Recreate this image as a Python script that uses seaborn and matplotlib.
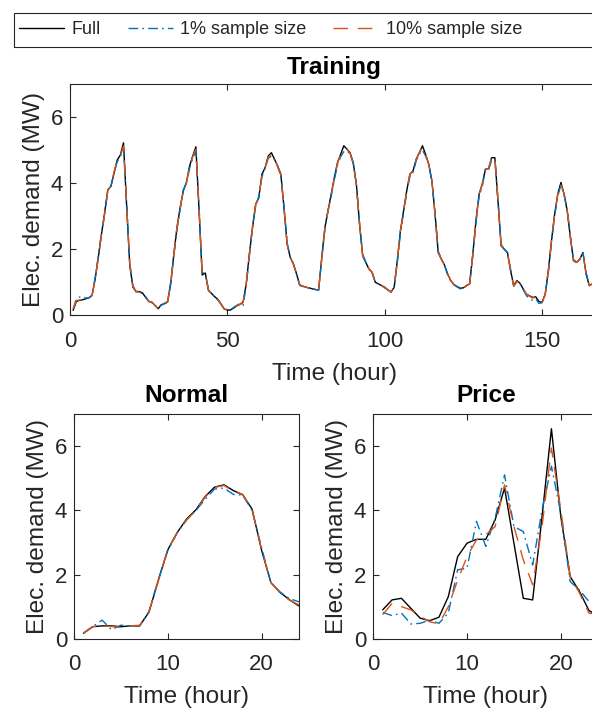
import numpy as np
import pandas as pd
import matplotlib
matplotlib.use("Agg")
import matplotlib.pyplot as plt
import seaborn as sns
from matplotlib.lines import Line2D
from matplotlib.patches import Rectangle

sns.set_style("ticks")
plt.rcParams['font.family'] = ['Liberation Sans', 'DejaVu Sans']

# ---------------- data ----------------
series_names = ["Full", "1% sample size", "10% sample size"]

train_full = [
    0.15, 0.42, 0.45, 0.47, 0.5, 0.53, 0.6, 1.1, 1.75, 2.45, 3.1, 3.8, 3.9, 4.3, 4.7, 4.85, 5.22, 3.3, 1.5, 0.85, 0.72, 0.72, 0.68, 0.55,
    0.42, 0.4, 0.3, 0.2, 0.32, 0.35, 0.4, 0.95, 1.85, 2.66, 3.26, 3.77, 4.02, 4.52, 4.82, 5.1, 3.2, 1.22, 1.28, 0.75, 0.66, 0.56, 0.48, 0.34,
    0.19, 0.16, 0.16, 0.22, 0.29, 0.33, 0.4, 0.95, 1.85, 2.66, 3.36, 3.56, 4.27, 4.47, 4.82, 4.92, 4.72, 4.52, 4.27, 3.26, 2.15, 1.75, 1.55, 1.25,
    0.92, 0.88, 0.85, 0.83, 0.8, 0.78, 0.77, 1.75, 2.66, 3.16, 3.67, 4.17, 4.62, 4.87, 5.13, 5.03, 4.92, 4.62, 3.97, 2.76, 1.8, 1.6, 1.4, 1.3,
    1.0, 0.95, 0.9, 0.85, 0.77, 0.7, 0.85, 1.65, 2.56, 3.16, 3.77, 4.27, 4.37, 4.72, 4.92, 5.13, 4.87, 4.57, 4.07, 3.06, 1.9, 1.7, 1.52, 1.25,
    1.05, 0.93, 0.87, 0.82, 0.83, 0.9, 0.95, 1.85, 2.86, 3.67, 3.97, 4.42, 4.44, 4.77, 4.77, 3.46, 2.1, 2.0, 1.9, 1.35, 0.9, 1.05, 0.97, 0.8,
    0.64, 0.59, 0.54, 0.56, 0.42, 0.39, 0.64, 1.35, 2.26, 3.06, 3.67, 4.02, 3.67, 3.16, 2.36, 1.65, 1.6, 1.7, 1.9, 1.25, 0.9, 0.95, 1.0, 1.05,
]
train_s1 = [
    0.18, 0.5, 0.55, 0.57, 0.52, 0.53, 0.6, 1.15, 1.8, 2.5, 3.05, 3.75, 3.92, 4.3, 4.65, 4.8, 5.05, 3.4, 1.55, 0.9, 0.7, 0.7, 0.66, 0.57,
    0.43, 0.38, 0.3, 0.22, 0.3, 0.36, 0.42, 1.0, 1.8, 2.6, 3.2, 3.8, 4.0, 4.45, 4.75, 4.95, 3.3, 1.3, 1.25, 0.78, 0.62, 0.58, 0.46, 0.33,
    0.2, 0.17, 0.17, 0.24, 0.3, 0.36, 0.3, 0.9, 1.8, 2.7, 3.3, 3.6, 4.2, 4.45, 4.75, 4.82, 4.7, 4.5, 4.2, 3.3, 2.2, 1.75, 1.55, 1.22,
    0.9, 0.87, 0.85, 0.82, 0.8, 0.78, 0.76, 1.7, 2.6, 3.2, 3.6, 4.1, 4.55, 4.8, 4.95, 4.98, 4.88, 4.6, 3.95, 2.8, 1.85, 1.6, 1.42, 1.28,
    1.0, 0.95, 0.9, 0.83, 0.77, 0.72, 0.84, 1.6, 2.5, 3.1, 3.7, 4.2, 4.3, 4.68, 4.88, 5.0, 4.82, 4.55, 4.05, 3.1, 1.95, 1.7, 1.52, 1.22,
    1.03, 0.92, 0.86, 0.8, 0.82, 0.9, 0.98, 1.8, 2.8, 3.6, 3.9, 4.4, 4.4, 4.7, 4.7, 3.5, 2.15, 2.0, 1.9, 1.4, 0.88, 1.02, 0.95, 0.78,
    0.6, 0.5, 0.45, 0.5, 0.36, 0.38, 0.62, 1.3, 2.2, 3.0, 3.6, 3.95, 3.65, 3.2, 2.4, 1.68, 1.62, 1.68, 1.88, 1.3, 0.92, 0.97, 0.98, 1.05,
]
train_s10 = [
    0.2, 0.45, 0.46, 0.48, 0.5, 0.54, 0.6, 1.1, 1.75, 2.45, 3.05, 3.78, 3.9, 4.35, 4.68, 4.82, 5.12, 3.35, 1.55, 0.88, 0.72, 0.7, 0.66, 0.56,
    0.42, 0.4, 0.3, 0.2, 0.32, 0.36, 0.4, 0.95, 1.85, 2.66, 3.25, 3.75, 4.0, 4.5, 4.8, 5.02, 3.25, 1.25, 1.25, 0.76, 0.65, 0.56, 0.47, 0.34,
    0.19, 0.16, 0.17, 0.22, 0.28, 0.33, 0.38, 0.95, 1.85, 2.66, 3.35, 3.56, 4.25, 4.47, 4.78, 4.88, 4.72, 4.5, 4.25, 3.26, 2.15, 1.75, 1.55, 1.25,
    0.92, 0.88, 0.85, 0.82, 0.8, 0.78, 0.76, 1.72, 2.65, 3.16, 3.65, 4.15, 4.6, 4.85, 5.02, 5.02, 4.9, 4.6, 3.97, 2.78, 1.8, 1.6, 1.4, 1.3,
    1.0, 0.95, 0.9, 0.84, 0.77, 0.7, 0.84, 1.65, 2.56, 3.16, 3.75, 4.27, 4.35, 4.72, 4.92, 5.08, 4.85, 4.57, 4.07, 3.06, 1.9, 1.7, 1.52, 1.25,
    1.05, 0.93, 0.87, 0.82, 0.83, 0.9, 0.95, 1.85, 2.86, 3.67, 3.97, 4.42, 4.44, 4.8, 4.8, 3.46, 2.1, 2.0, 1.9, 1.35, 0.88, 1.03, 0.95, 0.8,
    0.64, 0.58, 0.52, 0.55, 0.42, 0.38, 0.64, 1.35, 2.26, 3.06, 3.67, 3.98, 3.67, 3.16, 2.36, 1.65, 1.6, 1.7, 1.88, 1.25, 0.9, 0.95, 1.0, 1.05,
]

normal_full = [0.17, 0.375, 0.4, 0.4, 0.375, 0.4, 0.4, 0.83, 1.83, 2.77, 3.31, 3.73, 4.02, 4.44, 4.73, 4.8, 4.62, 4.49, 4.04, 2.77, 1.75, 1.44, 1.21, 1.02]
normal_s1 = [0.17, 0.38, 0.58, 0.28, 0.42, 0.4, 0.4, 0.85, 1.85, 2.75, 3.3, 3.7, 4.0, 4.35, 4.67, 4.7, 4.5, 4.48, 4.0, 2.85, 1.75, 1.45, 1.25, 1.15]
normal_s10 = [0.17, 0.38, 0.4, 0.38, 0.35, 0.4, 0.42, 0.85, 1.8, 2.78, 3.3, 3.7, 4.0, 4.42, 4.72, 4.78, 4.6, 4.5, 4.0, 2.8, 1.75, 1.42, 1.2, 1.05]

price_full = [0.9, 1.21, 1.26, 0.95, 0.64, 0.56, 0.67, 1.31, 2.56, 2.98, 3.1, 3.1, 3.71, 4.7, 2.98, 1.26, 1.21, 3.81, 6.55, 3.81, 1.94, 1.47, 0.88, 0.7]
price_s1 = [0.82, 0.72, 0.8, 0.46, 0.48, 0.58, 0.48, 0.8, 2.15, 2.2, 3.66, 2.88, 3.76, 5.11, 3.5, 3.34, 2.3, 4.02, 5.38, 3.92, 1.78, 1.52, 1.16, 1.05]
price_s10 = [0.75, 1.1, 1.0, 0.9, 0.7, 0.53, 0.46, 1.0, 1.83, 2.56, 3.08, 3.24, 3.5, 4.8, 3.5, 2.46, 1.68, 3.5, 5.95, 4.02, 1.94, 1.42, 0.8, 0.75]

# ---------------- style ----------------
colors = {"Full": "#000000", "1% sample size": "#0072BD", "10% sample size": "#D95319"}
dashes = {"Full": "", "1% sample size": (7, 3, 1.2, 3), "10% sample size": (10.5, 7)}
AX = "#262626"


def long_df(full, s1, s10):
    n = len(full)
    frames = []
    for name, vals in zip(series_names, [full, s1, s10]):
        frames.append(pd.DataFrame({"hour": np.arange(1, n + 1), "demand": vals, "series": name}))
    return pd.concat(frames, ignore_index=True)


W, H = 592, 711
fig = plt.figure(figsize=(W / 100, H / 100), dpi=100)


def px_axes(left, top, width, height):
    return fig.add_axes([left / W, 1 - (top + height) / H, width / W, height / H])


ax_tr = px_axes(70, 84, 168 * 3.147, 231.3)
ax_n = px_axes(74, 414.3, 225, 224.4)
ax_p = px_axes(373.3, 414.3, 225, 224.4)


def draw(ax, df, xlim, xticks, title, tpad):
    sns.lineplot(data=df, x="hour", y="demand", hue="series", style="series",
                 hue_order=series_names, style_order=series_names,
                 palette=colors, dashes=dashes, linewidth=1.0,
                 estimator=None, sort=False, legend=False, ax=ax)
    ax.set_xlim(*xlim)
    ax.set_ylim(0, 7)
    ax.set_xticks(xticks)
    ax.set_yticks([0, 2, 4, 6])
    ax.tick_params(direction="in", top=True, right=True, length=4, width=0.8,
                   colors=AX, labelsize=16)
    ax.tick_params(axis="x", pad=11)
    ax.tick_params(axis="y", pad=5)
    for s in ax.spines.values():
        s.set_visible(True)
        s.set_color(AX)
        s.set_linewidth(0.8)
    ax.set_xlabel("Time (hour)", fontsize=17.6, color=AX, labelpad=8)
    ax.set_ylabel("Elec. demand (MW)", fontsize=17.6, color=AX, labelpad=4)
    ax.set_title(title, fontsize=17.6, fontweight="bold", color="black", pad=tpad)


draw(ax_tr, long_df(train_full, train_s1, train_s10), (0, 168), [0, 50, 100, 150], "Training", 7)
draw(ax_n, long_df(normal_full, normal_s1, normal_s10), (0, 24), [0, 10, 20], "Normal", 9)
draw(ax_p, long_df(price_full, price_s1, price_s10), (0, 24), [0, 10, 20], "Price", 9)

# legend
handles = []
for name in series_names:
    ls = "-" if dashes[name] == "" else (0, dashes[name])
    handles.append(Line2D([], [], color=colors[name], linestyle=ls, linewidth=1.0))
fig.legend(handles, series_names, loc="center left", bbox_to_anchor=(19 / W, 1 - 30 / H),
           ncol=3, frameon=False, fontsize=13, handlelength=2.5, handletextpad=0.4,
           columnspacing=1.5, borderpad=0, borderaxespad=0)
fig.add_artist(Rectangle((14 / W, 1 - 47 / H), 600 / W, 34 / H, transform=fig.transFigure,
                         fill=False, edgecolor=AX, linewidth=0.8))

fig.savefig("out.png", dpi=100)
